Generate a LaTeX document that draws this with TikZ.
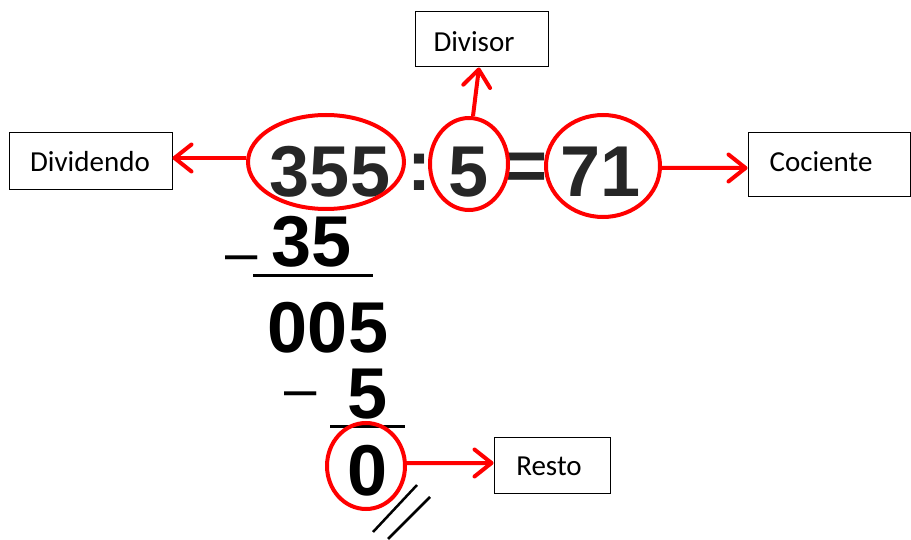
\documentclass[tikz,border=0pt]{standalone}
\usepackage{fontspec}
\setmainfont{Carlito}
\newfontfamily\arial{Liberation Sans}
\usetikzlibrary{arrows.meta,shapes.geometric}
\definecolor{numgray}{HTML}{262626}
\begin{document}
\begin{tikzpicture}[x=1bp,y=-1bp,
  label box/.style={draw=black,line width=1bp,inner sep=0pt},
  label text/.style={inner sep=0pt,font=\fontsize{29bp}{34bp}\selectfont},
  big num/.style={inner sep=0pt,font=\arial\bfseries\fontsize{72bp}{80bp}\selectfont},
  minus sign/.style={inner sep=0pt,font=\arial\fontsize{58bp}{60bp}\selectfont},
  ring/.style={ellipse,draw=red,line width=4bp,inner sep=0pt},
  red arrow/.style={draw=red,line width=4bp,-{Straight Barb[length=17bp,width=27bp,line cap=round,line join=round]}},
  rule line/.style={draw=black,line width=3bp}]
\path[use as bounding box] (0,0) rectangle (911,540);
% label boxes
\node[label box,minimum width=133bp,minimum height=55bp] (divisor) at (481.5,39.5) {};
\node[label text] (divisortxt) at (474,42) {Divisor};
\node[label box,minimum width=162bp,minimum height=57bp] (dividendo) at (91,161.5) {};
\node[label text] (dividendotxt) at (90,162) {Dividendo};
\node[label box,minimum width=162bp,minimum height=64bp] (cociente) at (829,165) {};
\node[label text] (cocientetxt) at (821,162) {Cociente};
\node[label box,minimum width=116bp,minimum height=56bp] (resto) at (552,465) {};
\node[label text] (restotxt) at (549,466) {Resto};
% top equation
\node[big num,text=numgray] (n355) at (330,172) {355};
\node[big num,text=numgray] (colon) at (419,172) {:};
\node[big num,text=numgray] (n5) at (469,172) {5};
\node[big num,text=numgray] (eq) at (527,172) {=};
\node[big num,text=numgray] (n71) at (601,172) {71};
% rings
\node[ring,minimum width=156bp,minimum height=94bp] (e355) at (326,162) {};
\node[ring,minimum width=78bp,minimum height=92bp] (e5) at (469,164) {};
\node[ring,minimum width=114bp,minimum height=102bp] (e71) at (603,166) {};
% long division
\node[minus sign] (m1) at (242,264) {–};
\node[big num] (n35) at (312,242) {35};
\coordinate (r1a) at (253,276);
\coordinate (r1b) at (373,276);
\draw[rule line] (r1a) -- (r1b);
\node[big num] (n005) at (328,328) {005};
\node[minus sign] (m2) at (301,400) {–};
\node[big num] (n5b) at (368,394) {5};
\coordinate (r2a) at (330,426);
\coordinate (r2b) at (405,426);
\draw[rule line] (r2a) -- (r2b);
\node[big num] (n0) at (368,471) {0};
\node[ring,minimum width=78bp,minimum height=86bp] (e0) at (366,466) {};
% double slash
\coordinate (s1a) at (373,532);
\coordinate (s1b) at (417,485);
\coordinate (s2a) at (388,539);
\coordinate (s2b) at (430,497);
\draw[line width=2.5bp] (s1a) -- (s1b);
\draw[line width=2.5bp] (s2a) -- (s2b);
% arrows
\draw[red arrow] ([yshift=4bp]e355.west) -- ([yshift=3.5bp]dividendo.east);
\draw[red arrow] ([yshift=-2bp]e71.east) -- ([yshift=-3bp]cociente.west);
\draw[red arrow] ([xshift=4bp]e5.north) -- ([xshift=-2.5bp]divisor.south);
\draw[red arrow] ([yshift=3bp]e0.east) -- ([yshift=2bp]resto.west);
\end{tikzpicture}
\end{document}
